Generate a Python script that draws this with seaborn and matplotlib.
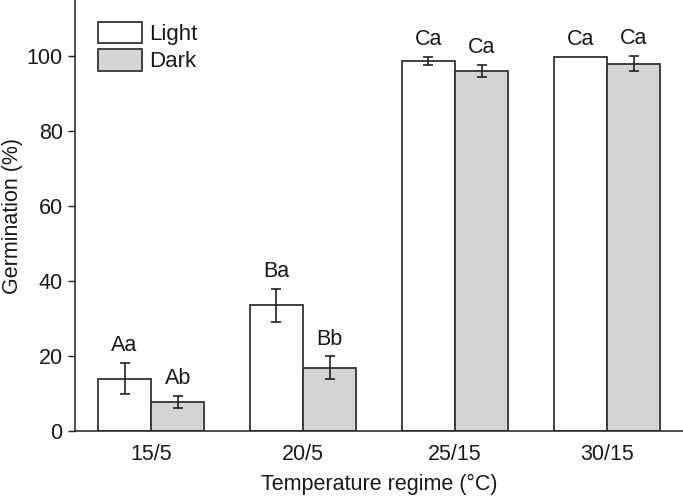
import matplotlib
matplotlib.use("Agg")
import matplotlib.pyplot as plt
import seaborn as sns
import pandas as pd
import numpy as np

regimes = ["15/5", "20/5", "25/15", "30/15"]
light_mean = [14.0, 33.5, 98.7, 99.8]
light_err = [4.2, 4.4, 1.1, 0.0]
dark_mean = [7.8, 16.9, 96.0, 98.0]
dark_err = [1.6, 3.0, 1.6, 2.0]
light_letters = ["Aa", "Ba", "Ca", "Ca"]
dark_letters = ["Ab", "Bb", "Ca", "Ca"]

df = pd.DataFrame({
    "regime": regimes * 2,
    "cond": ["Light"] * 4 + ["Dark"] * 4,
    "germ": light_mean + dark_mean,
})

sns.set_style("ticks")
plt.rcParams["font.family"] = ["Liberation Sans", "DejaVu Sans"]

FS = 15.5
fig = plt.figure(figsize=(6.83, 4.96), dpi=100)
ax = fig.add_axes([0.11, 0.131, 0.89, 0.869])

edge = "#333333"
sns.barplot(data=df, x="regime", y="germ", hue="cond", order=regimes,
            hue_order=["Light", "Dark"], palette={"Light": "white", "Dark": "#d3d4d6"},
            width=0.7, errorbar=None, edgecolor=edge, linewidth=1.3, ax=ax)

for cont, errs, means, letters in zip(ax.containers, [light_err, dark_err],
                                      [light_mean, dark_mean],
                                      [light_letters, dark_letters]):
    xs = [p.get_x() + p.get_width() / 2 for p in cont.patches]
    for x, m, e, lab in zip(xs, means, errs, letters):
        if e > 0:
            ax.errorbar(x, m, yerr=e, fmt="none", ecolor="#222222",
                        elinewidth=1.2, capsize=3.5, capthick=1.2, zorder=5)
        ax.text(x, m + e + 1.8, lab, ha="center", va="bottom", fontsize=FS,
                color="#1a1a1a")

ax.set_ylim(0, 115)
ax.set_xlim(-0.5, 3.5)
ax.set_yticks([0, 20, 40, 60, 80, 100])
ax.tick_params(axis="y", labelsize=FS, length=5, width=1, color="#222222",
               labelcolor="#1a1a1a", direction="out", pad=4)
ax.tick_params(axis="x", labelsize=FS, length=0, pad=9, labelcolor="#1a1a1a")
ax.set_ylabel("Germination (%)", fontsize=FS, color="#1a1a1a")
ax.yaxis.set_label_coords(-0.086, 0.5)
ax.set_xlabel("Temperature regime (°C)", fontsize=FS, color="#1a1a1a", labelpad=7)
sns.despine(ax=ax, top=True, right=True)
for s in ["left", "bottom"]:
    ax.spines[s].set_color("#222222")
    ax.spines[s].set_linewidth(1.1)

leg = ax.legend(loc="upper left", bbox_to_anchor=(0.038, 0.949), frameon=False,
                fontsize=16, handlelength=1.95, handleheight=1.1,
                handletextpad=0.35, labelspacing=0.18, borderaxespad=0.0,
                borderpad=0.0)
for t in leg.get_texts():
    t.set_color("#1a1a1a")

fig.savefig("out.png", dpi=100)
